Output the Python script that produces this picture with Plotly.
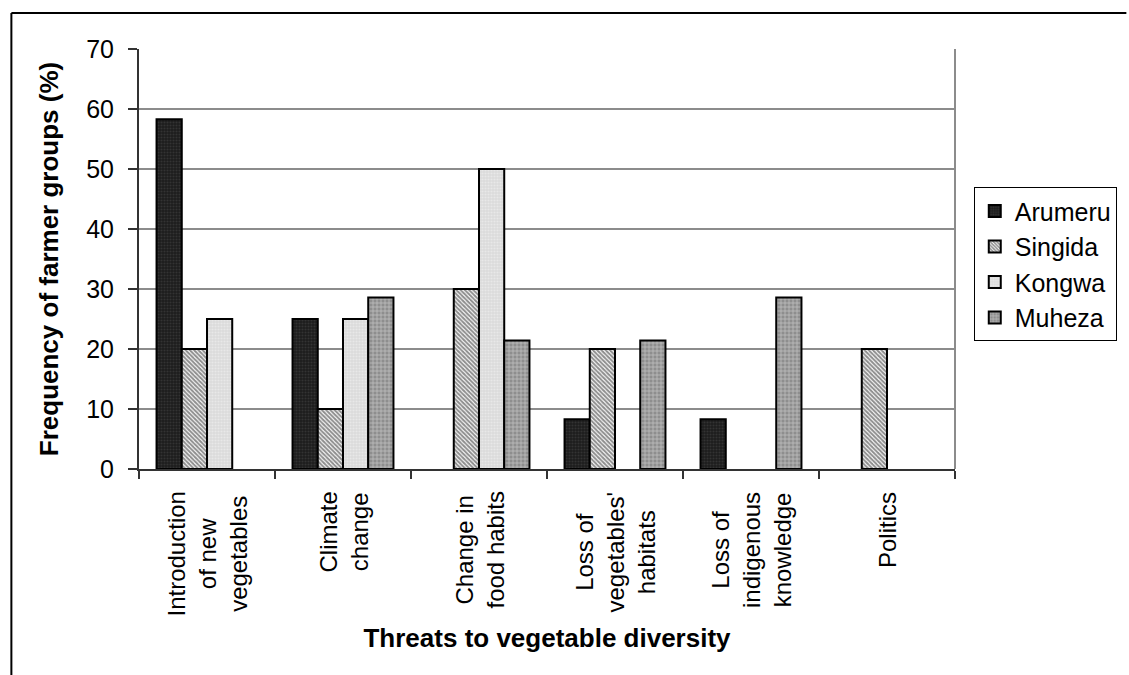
import plotly.graph_objects as go

# Threat categories (multi-line labels) and share of farmer groups per district
categories = [
    "Introduction<br>of new<br>vegetables",
    "Climate<br>change",
    "Change in<br>food habits",
    "Loss of<br>vegetables'<br>habitats",
    "Loss of<br>indigenous<br>knowledge",
    "Politics",
]
cat_keys = ["intro", "climate", "food", "habitat", "knowledge", "politics"]

arumeru = [58.3, 25.0, 0.0, 8.3, 8.3, 0.0]
singida = [20.0, 10.0, 30.0, 20.0, 0.0, 20.0]
kongwa = [25.0, 25.0, 50.0, 0.0, 0.0, 0.0]
muheza = [0.0, 28.6, 21.4, 21.4, 28.6, 0.0]

y_ticks = [0, 10, 20, 30, 40, 50, 60, 70]

FONT = "Liberation Sans, Arial, sans-serif"

series = [
    ("Arumeru", arumeru, dict(shape=".", bgcolor="#1c1c1c", fgcolor="#4a4a4a", size=3, solidity=0.4)),
    ("Singida", singida, dict(shape="\\", bgcolor="#ffffff", fgcolor="#1e1e1e", size=3, solidity=0.65)),
    ("Kongwa", kongwa, dict(shape=".", bgcolor="#dadada", fgcolor="#f5f5f5", size=3, solidity=0.4)),
    ("Muheza", muheza, dict(shape="+", bgcolor="#8e8e8e", fgcolor="#ffffff", size=4, solidity=0.3)),
]

fig = go.Figure()
for name, vals, pat in series:
    # zero shares get no bar at all (no outline on the baseline)
    shown = [v if v > 0 else None for v in vals]
    fig.add_trace(go.Bar(
        name=name,
        x=cat_keys,
        y=shown,
        marker=dict(color=pat["bgcolor"], pattern=pat, line=dict(color="#000000", width=2)),
    ))

# Rotated, centre-aligned category labels under the axis
for key, label in zip(cat_keys, categories):
    fig.add_annotation(
        x=key, xref="x", y=-0.05, yref="paper",
        text=label, textangle=-90, align="center",
        xanchor="center", yanchor="top", showarrow=False,
        font=dict(family=FONT, size=24, color="#000000"),
    )

# Plot-area right edge and the outer chart frame
fig.add_shape(type="line", xref="paper", yref="paper", x0=1, x1=1, y0=0, y1=1,
              line=dict(color="#8c8c8c", width=2))
fig.add_shape(type="line", xref="paper", yref="paper", x0=-0.1564, x1=1.21, y0=1.0857, y1=1.0857,
              line=dict(color="#000000", width=2))
fig.add_shape(type="line", xref="paper", yref="paper", x0=-0.1564, x1=-0.1564, y0=1.0857, y1=-0.6,
              line=dict(color="#000000", width=2))

fig.update_layout(
    width=1129, height=675,
    margin=dict(l=139, r=165, t=49, b=206),
    paper_bgcolor="white", plot_bgcolor="white",
    barmode="group", bargap=0.258, bargroupgap=0,
    font=dict(family=FONT, size=25, color="#000000"),
    showlegend=True,
    legend=dict(
        x=1.023, y=0.671, xanchor="left", yanchor="top",
        bordercolor="#000000", borderwidth=1, bgcolor="white",
        font=dict(family=FONT, size=25),
        tracegroupgap=0,
    ),
    xaxis=dict(
        showline=True, linecolor="#333333", linewidth=2,
        ticks="outside", tickson="boundaries", ticklen=8, tickcolor="#333333", tickwidth=1.5,
        showticklabels=False, showgrid=False, fixedrange=True,
        title=dict(text="<b>Threats to vegetable diversity</b>", standoff=159,
                   font=dict(family=FONT, size=26)),
    ),
    yaxis=dict(
        range=[0, 70], tickvals=y_ticks,
        showline=True, linecolor="#333333", linewidth=2,
        ticks="outside", ticklen=9, tickcolor="#333333", tickwidth=1.5,
        ticklabelstandoff=9,
        tickfont=dict(family=FONT, size=25),
        showgrid=True, gridcolor="#8c8c8c", gridwidth=2,
        zeroline=False,
        title=dict(text="<b>Frequency of farmer groups (%)</b>", standoff=20,
                   font=dict(family=FONT, size=26)),
    ),
)

fig.write_html("out.html")
